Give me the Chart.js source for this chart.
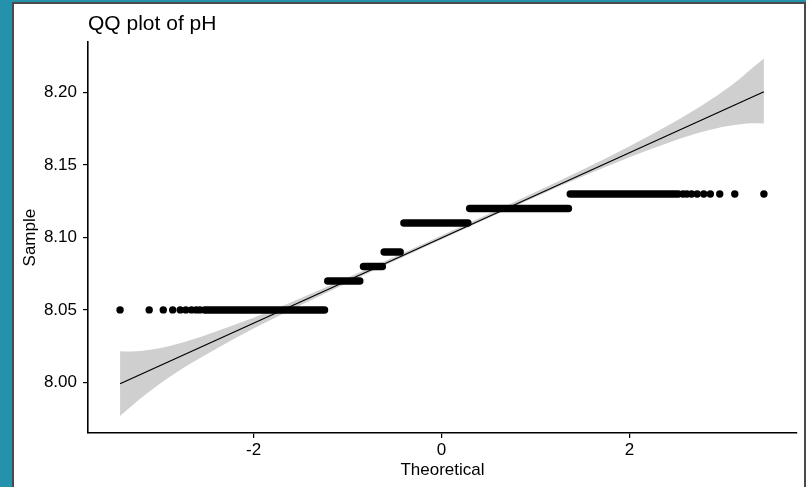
<!DOCTYPE html>
<html>
<head>
<meta charset="utf-8">
<script src="https://cdn.jsdelivr.net/npm/chart.js@4.4.1/dist/chart.umd.min.js"></script>
<style>
  html, body { margin: 0; padding: 0; }
  body { width: 806px; height: 487px; background: #2492ad; overflow: hidden; position: relative; }
  #frame { position: absolute; left: 12px; top: 2px; width: 790px; height: 500px;
           background: #fff; border: 2px solid #4a4a4a; }
  #myChart { position: absolute; left: 0; top: 0; }
</style>
</head>
<body>
<div id="frame"></div>
<canvas id="myChart" width="806" height="487"></canvas>
<script>
// sample values (pH levels) and where each run of equal values sits on the theoretical axis
const levels = [8.05, 8.07, 8.08, 8.09, 8.11, 8.12, 8.13];
const runStart = [-2.52, -1.21, -0.83, -0.61, -0.40, 0.30, 1.37];
const runEnd = [-1.245, -0.87, -0.63, -0.44, 0.28, 1.35, 2.52];

// the single points in the tails
const lowTailX = [-3.42, -3.11, -2.96, -2.86, -2.78, -2.72, -2.66, -2.61, -2.57];
const lowTailY = 8.05;
const highTailX = [2.57, 2.61, 2.66, 2.72, 2.79, 2.86, 2.96, 3.12, 3.43];
const highTailY = 8.13;

// reference line
const lineX = [-3.42, 3.43];
const lineY = [7.999, 8.2006];

// confidence band
const bandX = [-3.42, -3.3, -3.2, -3.0, -2.7, -2.4, -2.0, -1.5, -1.0, -0.5, 0, 0.5, 1.0, 1.5, 2.0, 2.4, 2.7, 3.0, 3.2, 3.3, 3.43];
const bandUpper = [8.0215, 8.0213, 8.0216, 8.0235, 8.0285, 8.0350, 8.0445, 8.0580, 8.0721, 8.0866, 8.1014, 8.1162, 8.1313, 8.1468, 8.1630, 8.1770, 8.1883, 8.2011, 8.2110, 8.2166, 8.2235];
const bandLower = [7.9767, 7.9834, 7.9890, 7.9989, 8.0117, 8.0230, 8.0371, 8.0532, 8.0687, 8.0838, 8.0986, 8.1134, 8.1279, 8.1420, 8.1554, 8.1650, 8.1716, 8.1765, 8.1784, 8.1788, 8.1786];

const xTicks = [-2, 0, 2];
const yTicks = [8.00, 8.05, 8.10, 8.15, 8.20];

const FONT = "'Liberation Sans', Arial, Helvetica, sans-serif";

function pts(xs, ys) {
    return xs.map((x, i) => ({ x: x, y: Array.isArray(ys) ? ys[i] : ys }));
}

const datasets = [];

// reference line (lowest order = drawn on top)
datasets.push({
    data: pts(lineX, lineY),
    showLine: true,
    borderColor: '#000',
    borderWidth: 1.3,
    pointRadius: 0,
    fill: false,
    order: 0
});

// tail points
datasets.push({
    data: pts(lowTailX, lowTailY).concat(pts(highTailX, highTailY)),
    pointRadius: 3.7,
    pointBackgroundColor: '#000',
    pointBorderWidth: 0,
    showLine: false,
    order: 1
});

// runs of equal values drawn as thick rounded segments
for (let i = 0; i < levels.length; i++) {
    datasets.push({
        data: [{ x: runStart[i], y: levels[i] }, { x: runEnd[i], y: levels[i] }],
        showLine: true,
        borderColor: '#000',
        borderWidth: 7.5,
        borderCapStyle: 'round',
        pointRadius: 0,
        fill: false,
        order: 1
    });
}

// grey band: upper edge filled down to the lower edge
datasets.push({
    data: pts(bandX, bandUpper),
    showLine: true,
    borderWidth: 0,
    borderColor: 'rgba(0,0,0,0)',
    pointRadius: 0,
    backgroundColor: '#cfcfcf',
    fill: '+1',
    cubicInterpolationMode: 'monotone',
    order: 3
});
datasets.push({
    data: pts(bandX, bandLower),
    showLine: true,
    borderWidth: 0,
    borderColor: 'rgba(0,0,0,0)',
    pointRadius: 0,
    fill: false,
    cubicInterpolationMode: 'monotone',
    order: 3
});

const ctx = document.getElementById('myChart');
new Chart(ctx, {
    type: 'scatter',
    data: { datasets: datasets },
    options: {
        responsive: false,
        animation: false,
        events: [],
        layout: { padding: { left: 0, right: 9, top: 0, bottom: 0 } },
        plugins: {
            legend: { display: false },
            tooltip: { enabled: false },
            title: {
                display: true,
                text: 'QQ plot of pH',
                align: 'start',
                fullSize: false,
                color: '#000',
                font: { family: FONT, size: 21, weight: 'normal' },
                padding: { top: 12, bottom: 5 }
            }
        },
        scales: {
            x: {
                type: 'linear',
                min: -3.761,
                max: 3.782,
                afterFit: (scale) => { scale.height = 54; },
                afterBuildTicks: (scale) => { scale.ticks = xTicks.map(v => ({ value: v })); },
                grid: { display: true, drawOnChartArea: false, drawTicks: true, tickLength: 5, color: '#000', lineWidth: 1.2 },
                border: { display: true, color: '#000', width: 1.6 },
                ticks: {
                    color: '#000',
                    font: { family: FONT, size: 17 },
                    padding: 2,
                    maxRotation: 0,
                    callback: (v) => String(v)
                },
                title: {
                    display: true,
                    text: 'Theoretical',
                    color: '#000',
                    font: { family: FONT, size: 17 },
                    padding: { top: 0, bottom: 6 }
                }
            },
            y: {
                type: 'linear',
                min: 7.965,
                max: 8.2348,
                afterFit: (scale) => { scale.width = 88; },
                afterBuildTicks: (scale) => { scale.ticks = yTicks.map(v => ({ value: v })); },
                grid: { display: true, drawOnChartArea: false, drawTicks: true, tickLength: 5, color: '#000', lineWidth: 1.2 },
                border: { display: true, color: '#000', width: 1.6 },
                ticks: {
                    color: '#000',
                    font: { family: FONT, size: 17 },
                    padding: 6,
                    callback: (v) => Number(v).toFixed(2)
                },
                title: {
                    display: true,
                    text: 'Sample',
                    color: '#000',
                    font: { family: FONT, size: 17 },
                    padding: { top: 20, bottom: 0 }
                }
            }
        }
    }
});
</script>
</body>
</html>
